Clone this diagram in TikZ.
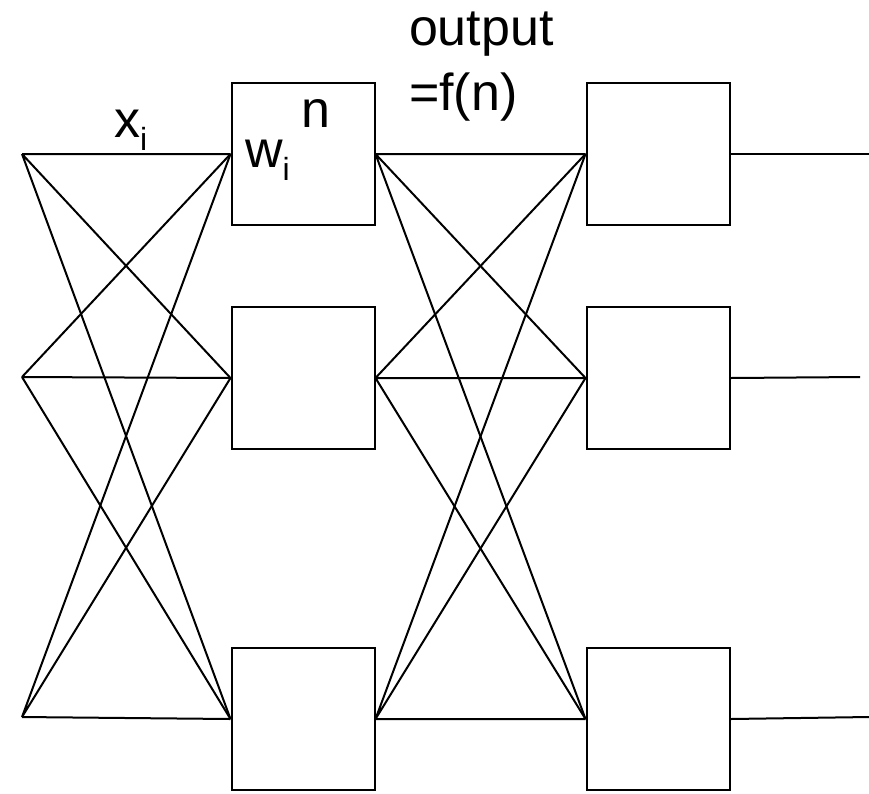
\documentclass[tikz,border=0pt]{standalone}
\usepackage{fontspec}
\setmainfont{Liberation Sans}
\usepackage{tikz}
\usetikzlibrary{positioning}
\newcommand{\lblfont}{\fontsize{52}{62}\selectfont}
\newcommand{\lowsub}[1]{\raisebox{-13pt}{\fontsize{32}{32}\selectfont #1}}
\tikzstyle{unit} = [rectangle,
minimum width=143pt,
minimum height=142pt,
inner sep=0pt,
draw=black,
line width=2pt,
fill=white]
\tikzstyle{label} = [anchor=base west, inner sep=0pt]

\begin{document}
\begin{tikzpicture}[x=1pt, y=-1pt, node distance=281pt, line width=2pt]
\tikzstyle{every node}=[font=\lblfont]
\useasboundingbox (0,0) rectangle (869,793);
\coordinate (in1) at (22,154);
\coordinate (in2) at (22,377);
\coordinate (in3) at (22,717);
\node (hid1) [unit, right of=in1] {};
\node (hid2) [unit, right of=in2, yshift=-1pt] {};
\node (hid3) [unit, right of=in3, yshift=-2pt] {};
\node (out1) [unit, right of=hid1, xshift=74pt] {};
\node (out2) [unit, right of=hid2, xshift=74pt] {};
\node (out3) [unit, right of=hid3, xshift=74pt] {};
\coordinate (end1) at (869,154);
\coordinate (end2) at (860,377);
\coordinate (end3) at (869,717);

% input layer to first units
\draw (in1) -- (hid1.west) (in1) -- (hid2.west) (in1) -- (hid3.west);
\draw (in2) -- (hid1.west) (in2) -- (hid2.west) (in2) -- (hid3.west);
\draw (in3) -- (hid1.west) (in3) -- (hid2.west) (in3) -- (hid3.west);
% first units to second units
\draw (hid1.east) -- (out1.west) (hid1.east) -- (out2.west) (hid1.east) -- (out3.west);
\draw (hid2.east) -- (out1.west) (hid2.east) -- (out2.west) (hid2.east) -- (out3.west);
\draw (hid3.east) -- (out1.west) (hid3.east) -- (out2.west) (hid3.east) -- (out3.west);
% outputs
\draw (out1.east) -- (end1);
\draw (out2.east) -- (end2);
\draw (out3.east) -- (end3);

\node (xlbl) [label] at (113,137) {x\lowsub{i}};
\node (wlbl) [label] at (244,167) {w\lowsub{i}};
\node (nlbl) [label] at (300,127) {n};
\node (outlbl) [label] at (408,45) {output};
\node (fnlbl) [label] at ([yshift=-65pt]outlbl.base west) {=f(n)};
\end{tikzpicture}
\end{document}
